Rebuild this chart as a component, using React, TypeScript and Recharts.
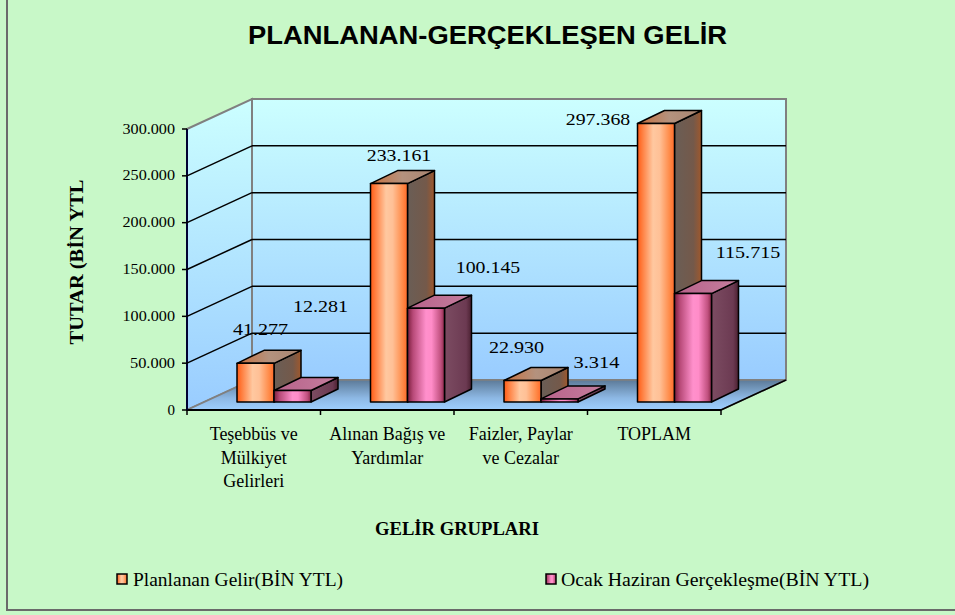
import React from 'react';
import { BarChart, Bar, XAxis, YAxis, CartesianGrid, Legend } from 'recharts';

const CATEGORIES = ['Teşebbüs ve\nMülkiyet\nGelirleri', 'Alınan Bağış ve\nYardımlar', 'Faizler, Paylar\nve Cezalar', 'TOPLAM'];
const PLANNED = [41277, 233161, 22930, 297368];
const REALIZED = [12281, 100145, 3314, 115715];
const Y_TICKS = [0, 50000, 100000, 150000, 200000, 250000, 300000];
const SERIES_NAMES = ['Planlanan Gelir(BİN YTL)', 'Ocak Haziran Gerçekleşme(BİN YTL)'];

// excel drops the 3d value labels loosely around the bars, nudge from top-centre of each front face
const PLANNED_NUDGE = [[5, -34], [10, -28], [-6, -33], [-58, -4]];
const REALIZED_NUDGE = [[28, -84], [62, -41], [37, -36], [55, -41]];

const data = CATEGORIES.map((name, i) => ({ name, planned: PLANNED[i], realized: REALIZED[i] }));

const W = 955;
const H = 615;
const Y_W = 60;
const X_H = 30;
// plot area (bar plane) ends up at x 207..741, y 121..402
const M = { top: 121, right: 214, bottom: 213 - X_H, left: 207 - Y_W };
const PLOT_LEFT = M.left + Y_W;
const PLOT_TOP = M.top;
const PLOT_BOTTOM = H - M.bottom - X_H;
const BAND = (W - PLOT_LEFT - M.right) / CATEGORIES.length;

// fake perspective: front plane is (-FX,+FY) from the bar plane, back wall (+BX,-BY)
const FX = 20, FY = 8, BX = 45, BY = 22;
// bar depth
const DX = 27, DY = 13;

const SERIF = "'Liberation Serif', 'Times New Roman', serif";
const SANS = "'Liberation Sans', Arial, sans-serif";

const fmt = (v: number) => String(v).replace(/\B(?=(\d{3})+(?!\d))/g, '.');

const Defs = () => (
  <defs>
    <linearGradient id="backWall" x1="0" y1="0" x2="0" y2="1">
      <stop offset="0" stopColor="#CCFFFF" />
      <stop offset="1" stopColor="#99CCFF" />
    </linearGradient>
    <linearGradient id="sideWall" x1="0" y1="0" x2="0" y2="1">
      <stop offset="0" stopColor="#CCFFFF" />
      <stop offset="1" stopColor="#99CCFF" />
    </linearGradient>
    <linearGradient id="floor" x1="0" y1="0" x2="0" y2="1">
      <stop offset="0" stopColor="#5C7A98" />
      <stop offset="0.6" stopColor="#8DB8E4" />
      <stop offset="1" stopColor="#9ECFFF" />
    </linearGradient>
    <linearGradient id="pFront" x1="0" y1="0" x2="1" y2="0">
      <stop offset="0" stopColor="#FF5A14" />
      <stop offset="0.12" stopColor="#FF7C3C" />
      <stop offset="0.42" stopColor="#FFC8A0" />
      <stop offset="0.6" stopColor="#FFC096" />
      <stop offset="0.86" stopColor="#FF8C4A" />
      <stop offset="1" stopColor="#FF6A28" />
    </linearGradient>
    <linearGradient id="pTop" x1="0" y1="0" x2="1" y2="0">
      <stop offset="0" stopColor="#C8703E" />
      <stop offset="0.5" stopColor="#B4927E" />
      <stop offset="1" stopColor="#A88470" />
    </linearGradient>
    <linearGradient id="pSide" x1="0" y1="0" x2="1" y2="0">
      <stop offset="0" stopColor="#6A5E56" />
      <stop offset="0.7" stopColor="#74594A" />
      <stop offset="1" stopColor="#A0582C" />
    </linearGradient>
    <linearGradient id="rFront" x1="0" y1="0" x2="1" y2="0">
      <stop offset="0" stopColor="#7A1E3C" />
      <stop offset="0.15" stopColor="#B84A78" />
      <stop offset="0.5" stopColor="#FF90CC" />
      <stop offset="0.65" stopColor="#FF8CC8" />
      <stop offset="0.9" stopColor="#C0507E" />
      <stop offset="1" stopColor="#8A2848" />
    </linearGradient>
    <linearGradient id="rTop" x1="0" y1="0" x2="1" y2="0">
      <stop offset="0" stopColor="#B8628A" />
      <stop offset="1" stopColor="#C47E9E" />
    </linearGradient>
    <linearGradient id="rSide" x1="0" y1="0" x2="1" y2="0">
      <stop offset="0" stopColor="#7C4C62" />
      <stop offset="0.8" stopColor="#6C3A52" />
      <stop offset="1" stopColor="#4A2030" />
    </linearGradient>
  </defs>
);

const Walls = ({ l, r }: { l: number; r: number }) => {
  const t = PLOT_TOP, b = PLOT_BOTTOM;
  const fl = l - FX, fr = r - FX, ft = t + FY, fb = b + FY;
  const bl = l + BX, br = r + BX, bt = t - BY, bb = b - BY;
  return (
    <g>
      <Defs />
      <polygon points={`${bl},${bt} ${br},${bt} ${br},${bb} ${bl},${bb}`} fill="url(#backWall)" stroke="#808080" strokeWidth={2} />
      <polygon points={`${fl},${ft} ${bl},${bt} ${bl},${bb} ${fl},${fb}`} fill="url(#sideWall)" stroke="#808080" strokeWidth={2} />
      <polygon points={`${fl},${fb} ${bl},${bb} ${br},${bb} ${fr},${fb}`} fill="url(#floor)" stroke="#808080" strokeWidth={1.5} />
      <line x1={fr} y1={fb} x2={br} y2={bb} stroke="#000" strokeWidth={1.5} />
      <line x1={fl} y1={fb} x2={fr} y2={fb} stroke="#000" strokeWidth={2} />
      <line x1={fl} y1={ft} x2={fl} y2={fb} stroke="#000033" strokeWidth={2} />
    </g>
  );
};

const GridLine = (p: any) => {
  const { x1, x2, y1, index } = p;
  const edge = Math.abs(y1 - PLOT_TOP) < 1 || Math.abs(y1 - PLOT_BOTTOM) < 1;
  return (
    <g key={`g-${index}`}>
      {index === 0 && <Walls l={x1} r={x2} />}
      {!edge && (
        <g stroke="#000" strokeWidth={1.5}>
          <line x1={x1 - FX} y1={y1 + FY} x2={x1 + BX} y2={y1 - BY} />
          <line x1={x1 + BX} y1={y1 - BY} x2={x2 + BX} y2={y1 - BY} />
        </g>
      )}
    </g>
  );
};

const Bar3D = (p: any, id: string) => {
  const { x, y, width: w, height: h } = p;
  if (w == null || h == null) return null;
  const top = `${x},${y} ${x + DX},${y - DY} ${x + w + DX},${y - DY} ${x + w},${y}`;
  const side = `${x + w},${y} ${x + w + DX},${y - DY} ${x + w + DX},${y + h - DY} ${x + w},${y + h}`;
  return (
    <g stroke="#000" strokeWidth={1.5} strokeLinejoin="round">
      <polygon points={side} fill={`url(#${id}Side)`} />
      <polygon points={top} fill={`url(#${id}Top)`} />
      <rect x={x} y={y} width={w} height={h} fill={`url(#${id}Front)`} />
    </g>
  );
};

const makeLabel = (nudge: number[][]) => (p: any) => {
  const vb = p.viewBox || {};
  const x = vb.x ?? p.x;
  const y = vb.y ?? p.y;
  const w = vb.width ?? p.width;
  const [dx, dy] = nudge[p.index] || [0, -30];
  const s = fmt(Number(p.value));
  return (
    <text key={`lb-${p.index}`} x={x + w / 2 + dx} y={y + dy + 5.5} textAnchor="middle" fontFamily={SERIF} fontSize={16} fill="#000"
      textLength={s.length * 9.2} lengthAdjust="spacingAndGlyphs">
      {s}
    </text>
  );
};

const YTick = (p: any) => {
  const fx = PLOT_LEFT - FX;
  const fy = p.y + FY;
  const s = fmt(p.payload.value);
  return (
    <g>
      <line x1={fx - 5} y1={fy} x2={fx} y2={fy} stroke="#000" strokeWidth={1.5} />
      <text x={fx - 12} y={fy + 4.5} textAnchor="end" fontFamily={SERIF} fontSize={14} fill="#000"
        textLength={s.length * 7.5} lengthAdjust="spacingAndGlyphs">
        {s}
      </text>
    </g>
  );
};

const XTick = (p: any) => {
  const cx = p.x - FX;
  const ay = PLOT_BOTTOM + FY;
  const lines = String(p.payload.value).split('\n');
  return (
    <g>
      <line x1={cx - BAND / 2} y1={ay} x2={cx - BAND / 2} y2={ay + 5} stroke="#000" strokeWidth={1.5} />
      {p.index === CATEGORIES.length - 1 && (
        <line x1={cx + BAND / 2} y1={ay} x2={cx + BAND / 2} y2={ay + 5} stroke="#000" strokeWidth={1.5} />
      )}
      <text textAnchor="middle" fontFamily={SERIF} fontSize={18} fill="#000">
        {lines.map((ln, i) => (
          <tspan key={i} x={cx} y={ay + 30 + i * 23.5}>{ln}</tspan>
        ))}
      </text>
    </g>
  );
};

const LEGEND_SPOTS = [
  { sx: 117, tx: 133, len: 210, grad: 'pFront' },
  { sx: 546, tx: 561, len: 308, grad: 'rFront' },
];

const LegendContent = (props: any) => {
  const names: string[] = props.payload && props.payload.length ? props.payload.map((e: any) => e.value) : SERIES_NAMES;
  return (
    <svg width={W} height={30} style={{ display: 'block' }}>
      {names.map((name: string) => {
        const k = Math.max(0, SERIES_NAMES.indexOf(name));
        const s = LEGEND_SPOTS[k];
        return (
          <g key={name}>
            <rect x={s.sx} y={8} width={10} height={10} fill={`url(#${s.grad})`} stroke="#000" strokeWidth={1.5} />
            <text x={s.tx} y={20} fontFamily={SERIF} fontSize={18} fill="#000" textLength={s.len} lengthAdjust="spacingAndGlyphs">
              {name}
            </text>
          </g>
        );
      })}
    </svg>
  );
};

const App = () => (
  <div style={{ position: 'absolute', left: 0, top: 0, width: W, height: H, background: '#C8F8C8', overflow: 'hidden' }}>
    <div style={{ position: 'absolute', left: 6, top: -4, width: W + 10, height: 615, borderLeft: '2px solid #6A6A6A', borderBottom: '2px solid #6A6A6A', boxSizing: 'border-box' }} />
    <BarChart width={W} height={H} data={data} margin={M} barGap={0}>
      <CartesianGrid horizontal={GridLine} vertical={false} fill="none" stroke="none" />
      <XAxis dataKey="name" type="category" height={X_H} interval={0} axisLine={false} tickLine={false} tick={XTick}
        label={() => (
          <text x={457} y={535} textAnchor="middle" fontFamily={SERIF} fontWeight="bold" fontSize={19} fill="#000"
            textLength={164} lengthAdjust="spacingAndGlyphs">GELİR GRUPLARI</text>
        )} />
      <YAxis type="number" domain={[0, 300000]} ticks={Y_TICKS} width={Y_W} interval={0} axisLine={false} tickLine={false} tick={YTick}
        label={() => (
          <text x={83} y={262} transform="rotate(-90, 83, 262)" textAnchor="middle" fontFamily={SERIF} fontWeight="bold" fontSize={19} fill="#000"
            textLength={165} lengthAdjust="spacingAndGlyphs">TUTAR (BİN YTL</text>
        )} />
      <Bar dataKey="planned" name={SERIES_NAMES[0]} fill="#FF8040" barSize={37} isAnimationActive={false}
        shape={(p: any) => Bar3D(p, 'p')} label={makeLabel(PLANNED_NUDGE)} />
      <Bar dataKey="realized" name={SERIES_NAMES[1]} fill="#E060A0" barSize={37} isAnimationActive={false}
        shape={(p: any) => Bar3D(p, 'r')} label={makeLabel(REALIZED_NUDGE)} />
      <Legend layout="horizontal" verticalAlign="middle" align="center" content={LegendContent}
        wrapperStyle={{ top: 566, left: 0, width: W, height: 30 }} />
    </BarChart>
    <svg width={W} height={60} style={{ position: 'absolute', left: 0, top: 0, pointerEvents: 'none' }}>
      <text x={487.5} y={44} textAnchor="middle" fontFamily={SANS} fontWeight="bold" fontSize={26} fill="#000"
        textLength={479} lengthAdjust="spacingAndGlyphs">PLANLANAN-GERÇEKLEŞEN GELİR</text>
    </svg>
  </div>
);

export default App;
